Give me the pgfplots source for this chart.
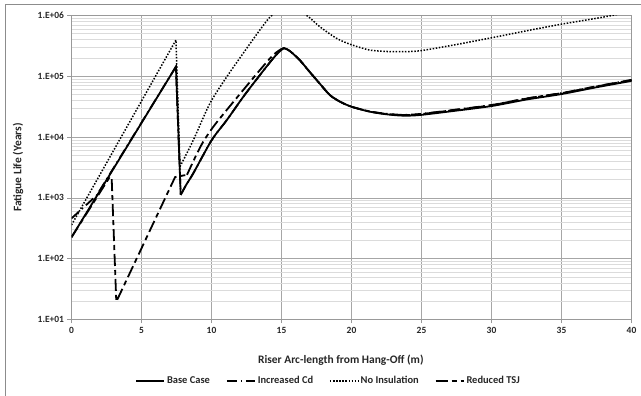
\documentclass[border=0pt]{standalone}
\usepackage{pgfplots}
\pgfplotsset{compat=1.18}
\usepackage{fontspec}
\setmainfont{Carlito}
\begin{document}
\begin{tikzpicture}
\useasboundingbox (0,0) rectangle (641bp,396bp);
\draw[black!45, line width=0.8bp] (5.7bp,-2bp) -- (5.7bp,392bp) -- (643bp,392bp);
\begin{axis}[
  at={(71.5bp,76.5bp)}, anchor=south west,
  scale only axis, width=560bp, height=304bp,
  ymode=log, xmin=0, xmax=40, ymin=10, ymax=1e6,
  xtick={0,5,...,40},
  ytick={1e1,1e2,1e3,1e4,1e5,1e6},
  yticklabels={1.E+01,1.E+02,1.E+03,1.E+04,1.E+05,1.E+06},
  /pgf/number format/assume math mode=true,
  ticklabel style={font=\bfseries\fontsize{9.5}{11}\selectfont, text=black!85},
  xmajorgrids, ymajorgrids, yminorgrids,
  major grid style={black!35, line width=0.6bp},
  minor grid style={black!14, line width=0.6bp},
  axis line style={black!40, line width=0.7bp},
  tick align=outside, major tick length=4bp, minor tick length=0pt,
  tick style={black!40, line width=0.7bp},
  xtick pos=bottom, ytick pos=left,
  xlabel={Riser Arc-length from Hang-Off (m)},
  ylabel={Fatigue Life (Years)},
  label style={font=\bfseries\fontsize{11.5}{13}\selectfont, text=black!85},
  xlabel style={at={(axis description cs:0.481,-0.133)}, anchor=center},
  ylabel style={at={(axis description cs:-0.0955,0.5)}, anchor=center},
  legend columns=4,
  legend style={draw=none, fill=none, at={(axis description cs:0.459,-0.202)}, anchor=center,
    font=\bfseries\fontsize{10.5}{12}\selectfont, text=black!85,
    /tikz/every even column/.append style={column sep=14bp}},
  legend image code/.code={\draw[#1] (0bp,0bp) -- (28bp,0bp);},
  clip=true,
]
% Base Case
\addplot[black, line width=1.8bp] coordinates {
(0,225) (7.46,1.44e5) (7.8,1.12e3)};
\addlegendentry{Base Case}
% Increased Cd
\addplot[black, line width=1.8bp, dash pattern=on 10bp off 4bp on 1.5bp off 4bp] coordinates {
(0,460) (1.8,1.1e3) (7.46,1.44e5) (7.8,1.12e3)};
\addlegendentry{Increased Cd}
% No Insulation
\addplot[black, line width=1.5bp, dash pattern=on 1.5bp off 1.6bp] coordinates {
(0,358) (7.46,3.95e5) (7.75,3.26e3)};
\addlegendentry{No Insulation}
% Reduced TSJ
\addplot[black, line width=1.8bp, dash pattern=on 12bp off 4bp on 5bp off 4bp] coordinates {
(0,225) (2.75,2.24e3) (2.87,2.1e3) (3.2,19.6) (6.68,980) (7.4,2.2e3) (8.25,2.4e3)};
\addlegendentry{Reduced TSJ}

% smooth continuations
\addplot[forget plot, black, line width=1.8bp, smooth, tension=0.45] coordinates {
(7.8,1.12e3) (8.2,1.65e3) (8.7,2.54e3) (10.01,8.9e3) (11.09,1.9e4)
(12.27,4.6e4) (13.46,1.05e5) (14.41,1.98e5) (14.9,2.6e5) (15.18,2.9e5) (15.6,2.6e5)
(16.3,1.85e5) (17.0,1.19e5) (17.75,7.5e4) (18.46,4.9e4) (19.2,3.8e4) (20,3.16e4)
(21.3,2.62e4) (22.5,2.37e4) (23.7,2.25e4) (24.9,2.31e4) (27.3,2.69e4) (30,3.24e4)
(32.5,4.15e4) (35,5.1e4) (37.5,6.6e4) (40,8.4e4)};
\addplot[forget plot, black, line width=1.8bp, dash pattern=on 10bp off 4bp on 1.5bp off 4bp, smooth, tension=0.45] coordinates {
(7.8,1.12e3) (8.2,1.65e3) (8.7,2.54e3) (10.01,8.9e3) (11.09,1.9e4)
(12.27,4.6e4) (13.46,1.05e5) (14.41,1.98e5) (14.9,2.6e5) (15.18,2.9e5) (15.6,2.6e5)
(16.3,1.85e5) (17.0,1.19e5) (17.75,7.5e4) (18.46,4.9e4) (19.2,3.8e4) (20,3.16e4)
(21.3,2.64e4) (22.5,2.42e4) (23.7,2.32e4) (24.9,2.4e4) (27.3,2.8e4) (30,3.37e4)
(32.5,4.32e4) (35,5.3e4) (37.5,6.85e4) (40,8.7e4)};
\addplot[forget plot, black, line width=1.5bp, dash pattern=on 1.5bp off 1.6bp, smooth, tension=0.45] coordinates {
(7.75,3.26e3) (8.7,8.9e3) (9.89,3.6e4) (11.09,9.8e4) (12.27,2.4e5)
(13.46,5.8e5) (14.3,1e6) (15.5,1.4e6) (16.8,1e6) (17.75,6.5e5) (18.94,4.2e5) (20,3.3e5)
(21.3,2.7e5) (22.5,2.56e5) (23.7,2.54e5) (24.9,2.63e5) (27.3,3.27e5) (30,4.3e5)
(32.5,5.6e5) (35,7.2e5) (37.5,9.0e5) (38.6,1e6) (40,1.15e6)};
\addplot[forget plot, black, line width=1.8bp, dash pattern=on 12bp off 4bp on 5bp off 4bp, smooth, tension=0.45] coordinates {
(8.25,2.4e3) (8.9,5.0e3) (9.41,8.4e3) (10.13,1.48e4) (11.09,2.8e4) (12.27,5.96e4) (13.46,1.27e5)
(14.41,2.24e5) (15.13,2.9e5) (15.6,2.6e5)
(16.3,1.85e5) (17.0,1.19e5) (17.75,7.5e4) (18.46,4.9e4) (19.2,3.8e4) (20,3.16e4)
(21.3,2.64e4) (22.5,2.4e4) (23.7,2.3e4) (24.9,2.38e4) (27.3,2.78e4) (30,3.35e4)
(32.5,4.3e4) (35,5.28e4) (37.5,6.8e4) (40,8.7e4)};
\end{axis}
\end{tikzpicture}
\end{document}
